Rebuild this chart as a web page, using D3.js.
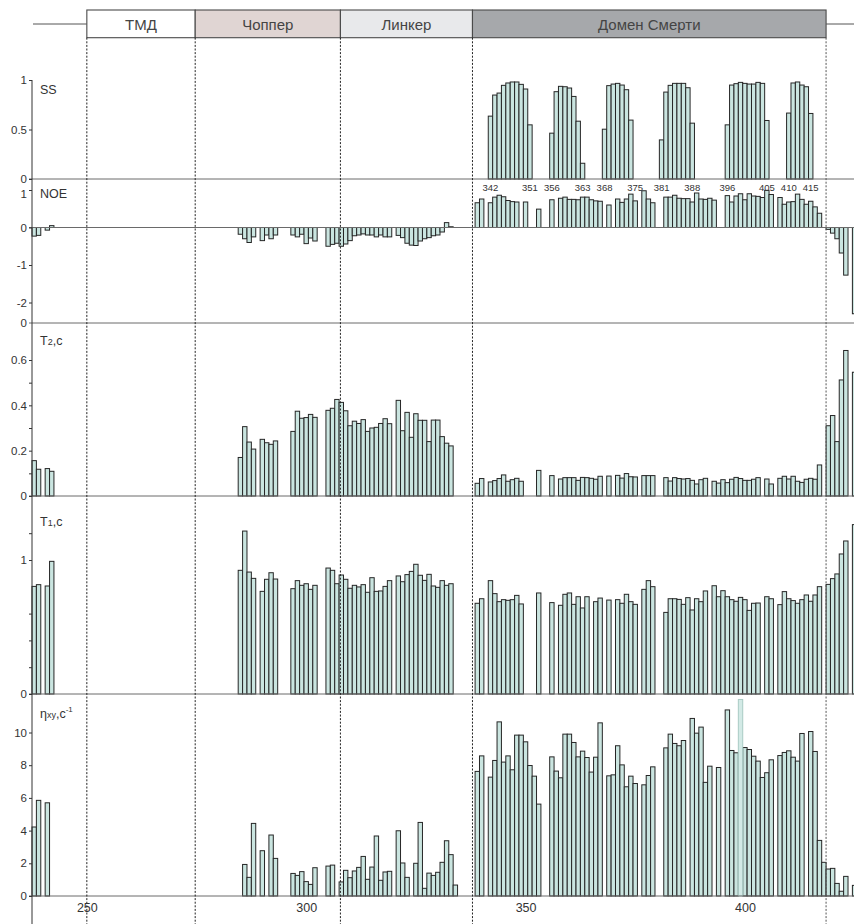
<!DOCTYPE html>
<html><head><meta charset="utf-8">
<script src="https://cdn.jsdelivr.net/npm/d3@7"></script>
<style>body{margin:0;background:#fff}svg{display:block}text{font-family:"Liberation Sans",Arial,sans-serif;font-weight:normal}</style>
</head><body><svg id="c" width="854" height="924"></svg>
<script>
// ---- DATA (segments: [first residue, consecutive values]) ----
const domainNames = ["ТМД", "Чоппер", "Линкер", "Домен Смерти"];
const domainBounds = [250.5, 275.2, 308.3, 338.4, 419.0];
const noeLabels = [342, 351, 356, 363, 368, 375, 381, 388, 396, 405, 410, 415];
const xTicks = [250, 300, 350, 400];
const ssTicks = [0, 0.5, 1];
const noeTicks = [-2, -1, 0, 1];
const t2Ticks = [0, 0.2, 0.4, 0.6];
const t2Minor = [0.1, 0.3, 0.5];
const t1Ticks = [0, 1];
const t1Minor = [0.2, 0.4, 0.6, 1.2];
const etaTicks = [0, 2, 4, 6, 8, 10];

const ssData = [
  [342, [0.635, 0.848, 0.868, 0.946, 0.97, 0.98, 0.98, 0.956, 0.909, 0.547]],
  [356, [0.463, 0.882, 0.936, 0.932, 0.919, 0.834, 0.584, 0.159]],
  [368, [0.503, 0.943, 0.959, 0.966, 0.949, 0.902, 0.595]],
  [381, [0.395, 0.878, 0.946, 0.966, 0.966, 0.966, 0.922, 0.564]],
  [396, [0.547, 0.949, 0.963, 0.976, 0.966, 0.959, 0.959, 0.976, 0.966, 0.591]],
  [410, [0.666, 0.97, 0.98, 0.949, 0.932, 0.662]]
];
const noeData = [
  [238, [-0.23, -0.21]], [241, [-0.07, 0.05]],
  [285, [-0.18, -0.3, -0.4, -0.25]], [290, [-0.35, -0.2, -0.3, -0.2]],
  [297, [-0.2, -0.25, -0.18, -0.43, -0.28, -0.36]],
  [305, [-0.5, -0.45, -0.42, -0.5, -0.44, -0.35, -0.22, -0.2, -0.17, -0.2, -0.2, -0.25, -0.2, -0.25, -0.25]],
  [321, [-0.21, -0.27, -0.42, -0.47, -0.48, -0.36, -0.3, -0.27, -0.22, -0.2, -0.12, 0.13, 0.02]],
  [339, [0.66, 0.76]], [342, [0.66, 0.81, 0.86, 0.82, 0.72, 0.69, 0.68]], [350, [0.68]],
  [353, [0.49]], [356, [0.74]],
  [358, [0.78, 0.81, 0.75, 0.75, 0.74, 0.81, 0.81, 0.74, 0.71, 0.70]], [369, [0.60]],
  [371, [0.76, 0.67, 0.76, 0.89, 0.71]], [377, [0.98, 0.76, 0.66]],
  [382, [0.81, 0.81, 0.86, 0.78, 0.77, 0.77, 0.68, 0.92, 0.76, 0.75, 0.78, 0.73]],
  [396, [0.85, 0.68, 0.84, 0.90, 0.74, 0.90, 0.84, 0.83, 0.80, 0.99, 0.88]],
  [408, [0.80, 0.62, 0.68, 0.69, 0.89, 0.75, 0.62, 0.70, 0.55, 0.38]],
  [419, [-0.05, -0.15, -0.3, -0.68, -1.27]], [425, [-2.3]]
];
const t2Data = [
  [238, [0.156, 0.118]], [241, [0.121, 0.109]],
  [285, [0.17, 0.306, 0.238, 0.207]], [290, [0.25, 0.235, 0.228, 0.243]],
  [297, [0.285, 0.374, 0.343, 0.346, 0.36, 0.347]],
  [305, [0.378, 0.387, 0.426, 0.413, 0.376, 0.31, 0.33, 0.32, 0.337, 0.285, 0.30, 0.303, 0.32, 0.341, 0.319]],
  [321, [0.422, 0.288, 0.369, 0.259, 0.363, 0.334, 0.334, 0.24, 0.335, 0.335, 0.262, 0.233, 0.221]],
  [339, [0.056, 0.077]], [342, [0.062, 0.068, 0.077, 0.093, 0.065, 0.072, 0.078, 0.065]],
  [353, [0.113]], [356, [0.09]],
  [358, [0.075, 0.081, 0.081, 0.081, 0.069, 0.082, 0.081, 0.078, 0.074, 0.087]], [369, [0.088]],
  [371, [0.091, 0.079, 0.099, 0.085, 0.084]], [377, [0.09, 0.09, 0.09]],
  [382, [0.081, 0.066, 0.081, 0.077, 0.075, 0.077, 0.069, 0.053, 0.072, 0.078]],
  [393, [0.065, 0.057, 0.072, 0.059, 0.074, 0.082, 0.077, 0.069, 0.069, 0.074, 0.081]],
  [405, [0.075, 0.053]],
  [408, [0.078, 0.087, 0.075, 0.087, 0.065, 0.06, 0.074, 0.078, 0.074, 0.137]],
  [419, [0.31, 0.355, 0.24, 0.512, 0.642]], [425, [0.546]]
];
const t1Data = [
  [238, [0.803, 0.816]], [241, [0.806, 0.99]],
  [285, [0.923, 1.216, 0.91, 0.863]], [290, [0.766, 0.856, 0.905, 0.858]],
  [297, [0.786, 0.846, 0.811, 0.823, 0.781, 0.811]],
  [305, [0.94, 0.923, 0.823, 0.888, 0.856, 0.789, 0.811, 0.799, 0.816, 0.759, 0.868, 0.766, 0.769, 0.803, 0.846]],
  [321, [0.881, 0.838, 0.891, 0.915, 0.968, 0.886, 0.848, 0.893, 0.806, 0.796, 0.846, 0.811, 0.823]],
  [339, [0.677, 0.711]], [342, [0.846, 0.749, 0.689, 0.704, 0.699, 0.704, 0.736, 0.672]],
  [353, [0.754]], [356, [0.682]],
  [358, [0.662, 0.744, 0.754, 0.669, 0.726, 0.642, 0.726]], [366, [0.689, 0.716]], [369, [0.701]],
  [371, [0.704, 0.677, 0.744, 0.689, 0.669]], [377, [0.781, 0.846, 0.801]],
  [382, [0.609, 0.711, 0.711, 0.706, 0.669, 0.719, 0.627, 0.711, 0.689, 0.769]],
  [393, [0.808, 0.726, 0.771, 0.726, 0.704, 0.692, 0.721, 0.704, 0.624, 0.677, 0.679]],
  [405, [0.726, 0.711]],
  [408, [0.667, 0.764, 0.711, 0.697, 0.677, 0.704, 0.739, 0.692, 0.739, 0.801]],
  [419, [0.818, 0.861, 0.896, 1.045, 1.142]], [425, [1.264]]
];
const etaData = [
  [238, [4.22, 5.85]], [241, [5.7]],
  [286, [1.93, 1.14, 4.44]], [290, [2.77]], [292, [3.73, 2.3]],
  [297, [1.38, 1.26, 1.49, 0.88, 0.71, 1.73]], [305, [1.83, 1.89]],
  [308, [0.86, 1.57, 1.12, 1.53, 1.75, 2.42, 1.02, 1.77, 3.67, 0.96, 1.47, 1.51]],
  [321, [3.99, 2.02, 1.14]],
  [325, [2.0, 4.5, 0.47, 1.4, 1.26, 1.45, 2.06, 3.38, 2.53, 0.67]],
  [339, [7.62, 8.57]],
  [342, [7.27, 8.29, 10.65, 8.19, 8.57, 7.72, 9.84, 9.84, 9.43, 7.98, 7.33, 5.62]],
  [356, [8.51, 7.64, 7.23, 9.9, 9.9, 9.39, 8.51, 8.86, 8.47, 7.58, 8.49, 10.59]],
  [369, [7.35, 7.41, 9.19, 8.02, 6.68, 7.33, 6.88]],
  [377, [6.8, 7.37, 7.9]],
  [382, [9.06, 9.9, 9.33, 9.19, 9.51]],
  [388, [10.86, 9.96, 10.33, 6.95, 7.94]],
  [394, [7.86]],
  [396, [11.38, 8.9, 8.76]],
  [400, [9.08, 8.96, 8.55, 8.25, 7.25, 7.54, 8.33]],
  [408, [8.59, 8.78, 8.88, 8.49, 8.25, 9.94]],
  [415, [10.06, 8.84, 3.4, 2.06, 1.65, 1.69, 0.77, 0.29, 1.2]], [425, [0.65]]
];
const etaHighlight = [[399, [12.02]]];

// ---- DRAWING ----
const svg = d3.select('#c');
const x = d3.scaleLinear().domain([238, 425]).range([32, 852.4]);
const bw = x(239) - x(238);
const xc = d3.scaleLinear().domain(x.domain()).range(x.range().map(v => v + bw / 2));

const ySS = d3.scaleLinear().domain([0, 1]).range([179, 80]);
const yNOE = d3.scaleLinear().domain([-2, 1]).range([302.5, 190]);
const yT2 = d3.scaleLinear().domain([0, 0.6]).range([496, 360]);
const yT1 = d3.scaleLinear().domain([0, 1]).range([694, 560]);
const yEta = d3.scaleLinear().domain([0, 10]).range([896, 732.5]);
const NOE_BOTTOM = 323;

const BAR_FILL = '#cae5e0', BAR_STROKE = '#262626';
const FONT = '"Liberation Sans",Arial,sans-serif';
const flat = segs => segs.flatMap(([s, vals]) => vals.map((v, i) => ({ r: s + i, v })));

function bars(segs, y, fill = BAR_FILL, stroke = BAR_STROKE) {
  svg.append('g').selectAll('rect').data(flat(segs)).join('rect')
    .attr('x', d => x(d.r)).attr('width', bw)
    .attr('y', d => Math.min(y(d.v), y(0)))
    .attr('height', d => Math.abs(y(d.v) - y(0)))
    .attr('fill', fill).attr('stroke', stroke).attr('stroke-width', 1);
}

// header
const hdr = svg.append('g');
const hdrFills = ['#ffffff', '#e0d5d3', '#e8e9eb', '#a6a8ab'];
hdr.selectAll('rect').data(domainNames).join('rect')
  .attr('x', (d, i) => x(domainBounds[i])).attr('y', 10)
  .attr('width', (d, i) => x(domainBounds[i + 1]) - x(domainBounds[i])).attr('height', 27.7)
  .attr('fill', (d, i) => hdrFills[i]).attr('stroke', '#4a4a4a').attr('stroke-width', 1.1);
hdr.selectAll('text').data(domainNames).join('text')
  .attr('x', (d, i) => (x(domainBounds[i]) + x(domainBounds[i + 1])) / 2).attr('y', 29.5)
  .attr('text-anchor', 'middle').attr('font-size', 15).attr('font-weight', 'normal')
  .attr('fill', '#444').text(d => d);
hdr.append('line').attr('x1', 33).attr('x2', x(domainBounds[0])).attr('y1', 24).attr('y2', 24).attr('stroke', '#555');
hdr.append('line').attr('x1', x(domainBounds[4])).attr('x2', 854).attr('y1', 24).attr('y2', 24).attr('stroke', '#555');

// bars
bars(ssData, ySS);
bars(noeData, yNOE);
bars(t2Data, yT2);
bars(t1Data, yT1);
bars(etaData, yEta);
bars(etaHighlight, yEta, '#d3eae6', '#a9cbc5');

// horizontal baselines / separators
const hl = [ySS(0), yNOE(0), NOE_BOTTOM, yT2(0), yT1(0), yEta(0)];
svg.append('g').selectAll('line').data(hl).join('line')
  .attr('x1', 29).attr('x2', 854).attr('y1', d => d).attr('y2', d => d)
  .attr('stroke', '#6a6a6a').attr('stroke-width', 1);

// dashed domain boundaries
svg.append('g').selectAll('line').data(domainBounds).join('line')
  .attr('x1', d => x(d)).attr('x2', d => x(d)).attr('y1', 37.7).attr('y2', 924)
  .attr('stroke', (d, i) => i === 4 ? '#555' : '#222').attr('stroke-width', 1)
  .attr('stroke-dasharray', '2,1.6');

// y axis line
svg.append('line').attr('x1', 32).attr('x2', 32).attr('y1', 80).attr('y2', 924)
  .attr('stroke', '#333').attr('stroke-width', 1);

function yAxis(scale, ticks, fmt) {
  const g = svg.append('g').attr('transform', 'translate(32,0)')
    .call(d3.axisLeft(scale).tickValues(ticks).tickSize(3).tickPadding(2).tickFormat(fmt));
  g.select('.domain').remove();
  g.selectAll('line').attr('stroke', '#333');
  g.selectAll('text').attr('font-size', 11.5).attr('fill', '#333').attr('font-family', FONT);
  return g;
}
const num = d => String(d);
yAxis(ySS, ssTicks, num);
const noeAx = yAxis(yNOE, noeTicks, num);
// the "1" of the NOE axis sits slightly below its tick in the original
noeAx.selectAll('.tick').filter(d => d === 1).select('text').attr('dy', '0.62em');
yAxis(yT2, t2Ticks, num);
yAxis(yT2, t2Minor, () => '');
yAxis(yT1, t1Ticks, num);
yAxis(yT1, t1Minor, () => '');
yAxis(yEta, etaTicks, num);
// "0" label at the NOE panel bottom, as in the original
svg.append('text').attr('x', 27).attr('y', NOE_BOTTOM).attr('dy', '0.35em').attr('text-anchor', 'end')
  .attr('font-size', 11.5).attr('fill', '#333').text('0');

// x axis labels
const xa = svg.append('g').attr('transform', `translate(0,${yEta(0)})`)
  .call(d3.axisBottom(xc).tickValues(xTicks).tickSize(0).tickPadding(7).tickFormat(d3.format('d')));
xa.select('.domain').remove();
xa.selectAll('text').attr('font-size', 12.5).attr('fill', '#333').attr('font-family', FONT);

// NOE residue labels
svg.append('g').selectAll('text').data(noeLabels).join('text')
  .attr('x', d => xc(d)).attr('y', 191).attr('text-anchor', 'middle')
  .attr('font-size', 9.5).attr('fill', '#333').text(d => d);

// panel titles
const tt = svg.append('g').attr('fill', '#333').attr('font-size', 12.5);
tt.append('text').attr('x', 40).attr('y', 94).text('SS');
tt.append('text').attr('x', 40).attr('y', 198).text('NOE');
const t2t = tt.append('text').attr('x', 40).attr('y', 345);
t2t.append('tspan').text('T');
t2t.append('tspan').attr('font-size', 9).text('2');
t2t.append('tspan').text(',c');
const t1t = tt.append('text').attr('x', 40).attr('y', 526);
t1t.append('tspan').text('T');
t1t.append('tspan').attr('font-size', 9).text('1');
t1t.append('tspan').text(',c');
const et = tt.append('text').attr('x', 40).attr('y', 718);
et.append('tspan').text('η');
et.append('tspan').attr('font-size', 9).text('xy');
et.append('tspan').text(',c');
et.append('tspan').attr('font-size', 8).attr('dy', -6).text('-1');
</script></body></html>
